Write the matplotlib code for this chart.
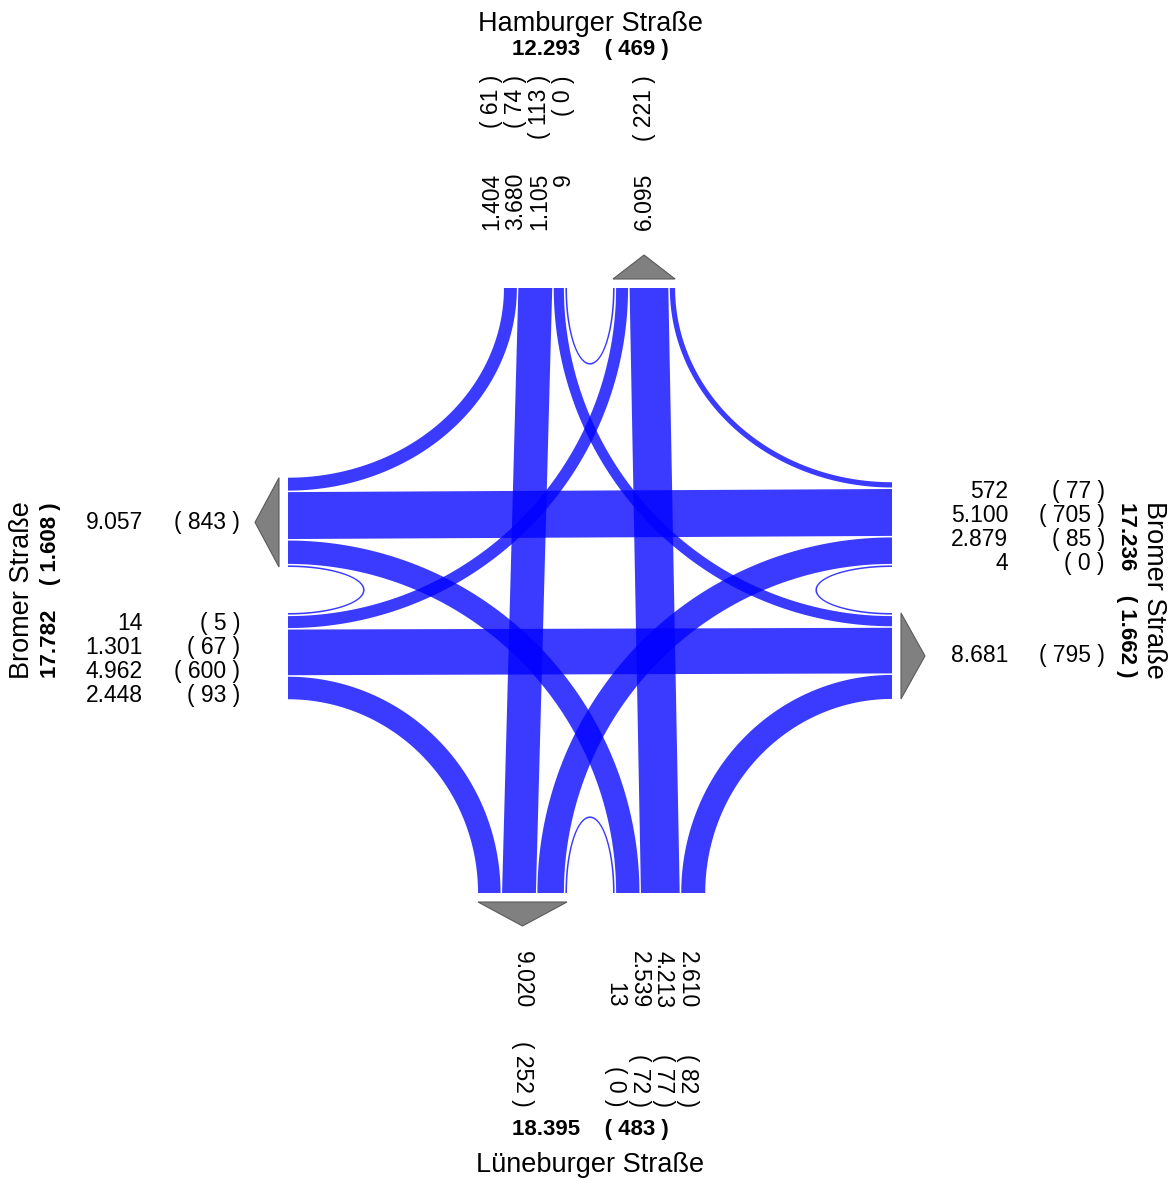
import numpy as np
import matplotlib.pyplot as plt
from matplotlib.patches import Polygon

plt.rcParams['font.family'] = ['Liberation Sans', 'DejaVu Sans']

# arms in clockwise order: north, east, south, west
arms = ["N", "E", "S", "W"]
street_names = ["Hamburger Straße", "Bromer Straße", "Lüneburger Straße", "Bromer Straße"]

# vehicles entering from each arm (same order as arms)
right_turn = [1404, 572, 2610, 2448]
straight = [3680, 5100, 4213, 4962]
left_turn = [1105, 2879, 2539, 1301]
u_turn = [9, 4, 13, 14]

# heavy vehicles
right_turn_hv = [61, 77, 82, 93]
straight_hv = [74, 705, 77, 600]
left_turn_hv = [113, 85, 72, 67]
u_turn_hv = [0, 0, 0, 5]

# layout (pixels)
W_PX, H_PX = 1173, 1180
cx, cy = 590, 590
half_gap = 23
X0, X1, Y0, Y1 = 288, 892, 288, 893
px_per_veh = 9.2 / 1000
min_w = 1.6
lane_gap = 1.5
blue = (0, 0, 1, 0.77)


def fmt(v):
    return f"{v:,}".replace(",", ".")


def edge(arm, side, d):
    s_in = {"N": -1, "S": 1, "W": 1, "E": -1}[arm]
    sgn = s_in if side == "in" else -s_in
    off = sgn * (half_gap + d)
    if arm == "N":
        return np.array([cx + off, Y0])
    if arm == "S":
        return np.array([cx + off, Y1])
    if arm == "W":
        return np.array([X0, cy + off])
    return np.array([X1, cy + off])


normals = {"N": np.array([0, 1]), "S": np.array([0, -1]),
           "W": np.array([1, 0]), "E": np.array([-1, 0])}
mids = {"N": np.array([cx, Y0]), "S": np.array([cx, Y1]),
        "W": np.array([X0, cy]), "E": np.array([X1, cy])}


def corner(a, b):
    pair = {a, b}
    x = X0 if "W" in pair else X1
    y = Y0 if "N" in pair else Y1
    return np.array([x, y])


def flow_path(a, b, d_in, d_out, kind, n=80):
    P = edge(a, "in", d_in)
    Q = edge(b, "out", d_out)
    if kind == "straight":
        t = np.linspace(0, 1, n)[:, None]
        return P + (Q - P) * t
    if kind == "u":
        M = mids[a]
        t = np.linspace(0, np.pi, n)[:, None]
        depth = 75 + d_in
        return M + (P - M) * np.cos(t) + normals[a] * depth * np.sin(t)
    C = corner(a, b)
    t = np.linspace(0, np.pi / 2, n)[:, None]
    return C + (P - C) * np.cos(t) + (Q - C) * np.sin(t)


# flows: (from, to, value, kind); lane order from the centre outwards: u, left, straight, right
flows = []
for i, a in enumerate(arms):
    flows.append((i, i, u_turn[i], "u"))
    flows.append((i, (i + 1) % 4, left_turn[i], "left"))
    flows.append((i, (i + 2) % 4, straight[i], "straight"))
    flows.append((i, (i - 1) % 4, right_turn[i], "right"))

width = {f: max(f[2] * px_per_veh, min_w) for f in flows}

# incoming lane offsets
in_off = {}
in_total = []
for i in range(4):
    d = 0.0
    for f in flows:
        if f[0] == i:
            in_off[f] = d
            d += width[f] + lane_gap
    in_total.append(d - lane_gap)

# outgoing lane offsets: u-turn, left-turners, straight, right-turners
out_off = {}
out_total = []
out_val = []
out_hv = []
for j in range(4):
    order = [(j, j, u_turn[j], "u"),
             ((j - 1) % 4, j, left_turn[(j - 1) % 4], "left"),
             ((j + 2) % 4, j, straight[(j + 2) % 4], "straight"),
             ((j + 1) % 4, j, right_turn[(j + 1) % 4], "right")]
    d = 0.0
    for f in order:
        out_off[f] = d
        d += width[f] + lane_gap
    out_total.append(d - lane_gap)
    out_val.append(u_turn[j] + left_turn[(j - 1) % 4] + straight[(j + 2) % 4] + right_turn[(j + 1) % 4])
    out_hv.append(u_turn_hv[j] + left_turn_hv[(j - 1) % 4] + straight_hv[(j + 2) % 4] + right_turn_hv[(j + 1) % 4])

fig = plt.figure(figsize=(W_PX / 100, H_PX / 100), dpi=100)
ax = fig.add_axes([0, 0, 1, 1])
ax.set_xlim(0, W_PX)
ax.set_ylim(H_PX, 0)
ax.axis("off")

for f in flows:
    a, b = arms[f[0]], arms[f[1]]
    w = width[f]
    p0 = flow_path(a, b, in_off[f], out_off[f], f[3])
    p1 = flow_path(a, b, in_off[f] + w, out_off[f] + w, f[3])
    poly = np.vstack([p0, p1[::-1]])
    ax.add_patch(Polygon(poly, closed=True, facecolor=blue, edgecolor="none"))

# exit arrows
for j, a in enumerate(arms):
    nrm = normals[a]
    b0 = edge(a, "out", 0) - nrm * 9
    b1 = edge(a, "out", out_total[j]) - nrm * 9
    tip = edge(a, "out", out_total[j] / 2) - nrm * 33
    ax.add_patch(Polygon([b0, b1, tip], closed=True, facecolor="#808080",
                         edgecolor="#5a5a5a", lw=0.8))

fs_num = 16.5
fs_tot = 16
fs_name = 19.5
step = 24

# labels per arm: incoming lane values in on-screen order
in_vals = [[right_turn[i], straight[i], left_turn[i], u_turn[i]] for i in range(4)]
in_hvs = [[right_turn_hv[i], straight_hv[i], left_turn_hv[i], u_turn_hv[i]] for i in range(4)]

# north
c_in = edge("N", "in", in_total[0] / 2)[0] - 8
for k in range(4):
    x = c_in + (k - 1.5) * step
    ax.text(x, 173, fmt(in_vals[0][k]), rotation=90, rotation_mode="anchor",
            ha="right", va="center", fontsize=fs_num)
    ax.text(x, 75, f"( {fmt(in_hvs[0][k])} )", rotation=90, rotation_mode="anchor",
            ha="right", va="center", fontsize=fs_num)
x = edge("N", "out", out_total[0] / 2)[0]
ax.text(x, 173, fmt(out_val[0]), rotation=90, rotation_mode="anchor",
        ha="right", va="center", fontsize=fs_num)
ax.text(x, 75, f"( {fmt(out_hv[0])} )", rotation=90, rotation_mode="anchor",
        ha="right", va="center", fontsize=fs_num)

# south (reversed so values run left to right: u, left, straight, right)
c_in = edge("S", "in", in_total[2] / 2)[0] - 8
for k in range(4):
    x = c_in + (k - 1.5) * step
    ax.text(x, 1008, fmt(in_vals[2][3 - k]), rotation=-90, rotation_mode="anchor",
            ha="right", va="center", fontsize=fs_num)
    ax.text(x, 1107, f"( {fmt(in_hvs[2][3 - k])} )", rotation=-90, rotation_mode="anchor",
            ha="right", va="center", fontsize=fs_num)
x = edge("S", "out", out_total[2] / 2)[0]
ax.text(x, 1008, fmt(out_val[2]), rotation=-90, rotation_mode="anchor",
        ha="right", va="center", fontsize=fs_num)
ax.text(x, 1107, f"( {fmt(out_hv[2])} )", rotation=-90, rotation_mode="anchor",
        ha="right", va="center", fontsize=fs_num)

# west (top to bottom: u, left, straight, right)
c_in = edge("W", "in", in_total[3] / 2)[1] + 3
for k in range(4):
    y = c_in + (k - 1.5) * step
    ax.text(143, y, fmt(in_vals[3][3 - k]), ha="right", va="center", fontsize=fs_num)
    ax.text(240, y, f"( {fmt(in_hvs[3][3 - k])} )", ha="right", va="center", fontsize=fs_num)
y = edge("W", "out", out_total[3] / 2)[1]
ax.text(143, y, fmt(out_val[3]), ha="right", va="center", fontsize=fs_num)
ax.text(240, y, f"( {fmt(out_hv[3])} )", ha="right", va="center", fontsize=fs_num)

# east (top to bottom: right, straight, left, u)
c_in = edge("E", "in", in_total[1] / 2)[1] + 3
for k in range(4):
    y = c_in + (k - 1.5) * step
    ax.text(1008, y, fmt(in_vals[1][k]), ha="right", va="center", fontsize=fs_num)
    ax.text(1105, y, f"( {fmt(in_hvs[1][k])} )", ha="right", va="center", fontsize=fs_num)
y = edge("E", "out", out_total[1] / 2)[1]
ax.text(1008, y, fmt(out_val[1]), ha="right", va="center", fontsize=fs_num)
ax.text(1105, y, f"( {fmt(out_hv[1])} )", ha="right", va="center", fontsize=fs_num)

# street names and totals
tot = [sum(in_vals[i]) + out_val[i] for i in range(4)]
tot_hv = [sum(in_hvs[i]) + out_hv[i] for i in range(4)]
tot_txt = [f"{fmt(tot[i])}    ( {fmt(tot_hv[i])} )" for i in range(4)]

ax.text(cx, 24, street_names[0], ha="center", va="center", fontsize=fs_name)
ax.text(cx, 50, tot_txt[0], ha="center", va="center", fontsize=fs_tot, fontweight="bold")
ax.text(cx, 1129, tot_txt[2], ha="center", va="center", fontsize=fs_tot, fontweight="bold")
ax.text(cx, 1165, street_names[2], ha="center", va="center", fontsize=fs_name)
ax.text(22, cy, street_names[3], rotation=90, ha="center", va="center", fontsize=fs_name)
ax.text(51, cy, tot_txt[3], rotation=90, ha="center", va="center", fontsize=fs_tot, fontweight="bold")
ax.text(1154, cy, street_names[1], rotation=-90, ha="center", va="center", fontsize=fs_name)
ax.text(1127, cy, tot_txt[1], rotation=-90, ha="center", va="center", fontsize=fs_tot, fontweight="bold")

fig.savefig("out.png", dpi=100)
